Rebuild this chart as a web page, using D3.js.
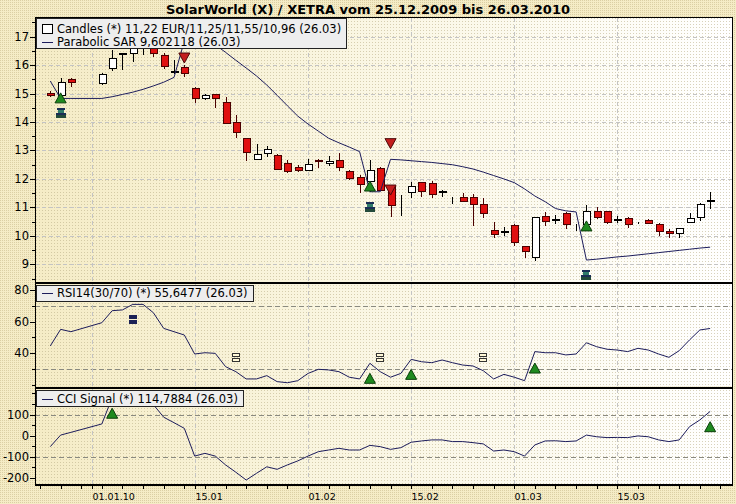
<!DOCTYPE html>
<html><head><meta charset="utf-8">
<script src="https://cdn.jsdelivr.net/npm/d3@7"></script>
<style>body{margin:0;background:#f6eecb}svg{display:block}</style>
</head><body><svg id="c" width="736" height="504"></svg>
<script>
// ---------- data ----------
const days = ["2009-12-28","2009-12-29","2009-12-30",
"2010-01-04","2010-01-05","2010-01-06","2010-01-07","2010-01-08",
"2010-01-11","2010-01-12","2010-01-13","2010-01-14","2010-01-15",
"2010-01-18","2010-01-19","2010-01-20","2010-01-21","2010-01-22",
"2010-01-25","2010-01-26","2010-01-27","2010-01-28","2010-01-29",
"2010-02-01","2010-02-02","2010-02-03","2010-02-04","2010-02-05",
"2010-02-08","2010-02-09","2010-02-10","2010-02-11","2010-02-12",
"2010-02-15","2010-02-16","2010-02-17","2010-02-18","2010-02-19",
"2010-02-22","2010-02-23","2010-02-24","2010-02-25","2010-02-26",
"2010-03-01","2010-03-02","2010-03-03","2010-03-04","2010-03-05",
"2010-03-08","2010-03-09","2010-03-10","2010-03-11","2010-03-12",
"2010-03-15","2010-03-16","2010-03-17","2010-03-18","2010-03-19",
"2010-03-22","2010-03-23","2010-03-24","2010-03-25","2010-03-26"];
const open = [15.03,14.95,15.51, 15.38,15.91,16.38,16.42,16.68, 16.75,16.36,15.79,15.92,15.19,
 14.83,14.98,14.69,14.01,13.43, 12.69,12.90,12.84,12.55,12.41, 12.31,12.68,12.56,12.67,12.29,
 12.08,11.93,12.38,11.75,11.10, 11.55,11.88,11.87,11.53,11.25, 11.36,11.36,11.12,10.22,10.15,
 10.37,9.64,9.25,10.70,10.57, 10.79,10.30,10.40,10.88,10.87, 10.57,10.62,10.45,10.56,10.42,
 10.17,10.09,10.50,10.65,11.22];
const high = [15.09,15.55,15.56, 15.72,16.53,16.43,16.80,17.05, 16.85,16.42,16.18,16.00,15.22,
 14.97,15.00,14.87,14.25,13.45, 13.23,13.16,12.86,12.67,12.50, 12.69,12.70,12.81,12.92,12.32,
 12.15,12.65,12.42,11.80,11.45, 11.89,11.90,11.93,11.61,11.38, 11.50,11.48,11.32,10.50,10.32,
 10.40,9.66,10.67,10.84,10.73, 10.85,10.42,11.08,11.00,10.89, 10.70,10.65,10.50,10.58,10.44,
 10.24,10.29,10.79,11.15,11.55];
const low = [14.89,14.85,15.22, 15.30,15.81,15.83,16.12,16.36, 16.30,15.85,15.68,15.59,14.66,
 14.78,14.48,13.95,13.43,12.64, 12.67,12.76,12.30,12.22,12.25, 12.27,12.37,12.46,12.29,11.98,
 11.52,11.55,11.58,10.65,10.70, 11.32,11.38,11.32,11.38,11.13, 11.20,10.34,10.62,9.94,10.01,
 9.65,9.21,9.13,10.36,10.43, 10.25,10.17,10.25,10.58,10.41, 10.46,10.29,10.40,10.40,10.01,
 9.91,9.91,10.48,10.53,10.96];
const close = [14.96,15.40,15.41, 15.69,16.24,16.42,16.65,16.95, 16.42,15.96,15.81,15.74,14.85,
 14.95,14.86,13.98,13.64,12.93, 12.88,13.04,12.34,12.28,12.30, 12.51,12.66,12.63,12.41,12.02,
 11.82,12.31,11.61,11.10,11.10, 11.75,11.59,11.46,11.56,11.25, 11.24,11.11,10.79,10.06,10.17,
 9.77,9.48,10.65,10.53,10.59, 10.40,10.30,10.89,10.65,10.50, 10.59,10.41,10.45,10.44,10.18,
 10.10,10.27,10.62,11.12,11.25];
const sar = [15.44,14.83,14.83, 14.83,14.89,14.97,15.05,15.15, 15.27,15.40,15.57,16.85,16.82,
 16.78,16.72,16.45,16.17,15.90, 15.62,15.30,14.94,14.57,14.21, 13.93,13.68,13.43,13.27,13.12,
 12.96,11.55,11.55,12.69,12.67, 12.64,12.61,12.58,12.54,12.50, 12.43,12.35,12.24,12.12,12.00,
 11.87,11.65,11.40,11.20,10.96, 10.88,10.84,9.15,9.18,9.22, 9.26,9.29,9.33,9.37,9.41,
 9.45,9.49,9.53,9.57,9.602118];
const rsi = [44.6,55.1,53.6, 59.3,66.9,67.4,70.9,70.9, 65.6,55.7,53.6,51.5,39.5,
 40.3,39.9,31.5,28.3,23.7, 23.7,25.8,22.0,21.3,22.6, 27.2,29.8,29.4,28.3,24.8,
 23.7,33.6,28.3,24.8,27.2, 36.1,34.6,34.0,35.7,34.0, 32.5,31.9,28.9,23.7,26.6,
 24.8,22.6,41.0,40.3,40.3, 38.9,39.5,46.6,44.1,42.5, 42.0,41.0,43.1,42.0,39.5,
 37.4,41.6,48.4,54.7,55.6477];
const cci = [-53,2,15, 55,180,195,200,185, 147,87,61,34,-98,
 -85,-98,-140,-175,-212, -180,-149,-161,-140,-121, -98,-77,-69,-61,-69,
 -69,-47,-53,-66,-58, -32,-26,-21,-21,-29, -29,-34,-40,-74,-69,
 -77,-98,-45,-26,-25, -29,-26,2,-6,-10, -9,-10,-2,-6,-21,
 -29,-21,42,74,114.7884];

const priceTicks = [9,10,11,12,13,14,15,16,17];
const rsiTicks = [40,60,80];
const cciTicks = [-200,-100,0,100];
const rsiLevels = [30,70];
const cciLevels = [-100,100];
const dateTicks = ["2010-01-01","2010-01-15","2010-02-01","2010-02-15","2010-03-01","2010-03-15"];
const dateLabels = ["01.01.10","15.01","01.02","15.02","01.03","15.03"];

const priceBuy  = [["2009-12-29",14.85],["2010-02-09",11.75],["2010-03-10",10.35]];
const priceSell = [["2010-01-14",16.25],["2010-02-11",11.61],["2010-02-11",13.24]];
const priceFlag = [["2009-12-29",14.32],["2010-02-09",11.01],["2010-03-10",8.62]];
const rsiHold     = [["2010-01-07",61.8]];
const rsiHoldOpen = [["2010-01-21",37.5],["2010-02-10",37.5],["2010-02-24",37.7]];
const rsiBuy  = [["2010-02-09",24.1],["2010-02-15",26.6],["2010-03-03",30.6]];
const cciBuy  = [["2010-01-05",106],["2010-03-26",42]];

const title = "SolarWorld (X) / XETRA vom 25.12.2009 bis 26.03.2010";
const legendPrice = ["Candles (*) 11,22 EUR/11,25/11,55/10,96 (26.03)","Parabolic SAR 9,602118 (26.03)"];
const legendRsi = "RSI14(30/70) (*) 55,6477 (26.03)";
const legendCci = "CCI Signal (*) 114,7884 (26.03)";

// ---------- helpers ----------
function wd(s){ // weekday index counted from Mon 28.12.2009
  const d = (Date.parse(s+"T00:00:00Z") - Date.UTC(2009,11,28))/864e5;
  const w = Math.floor(d/7), r = d - w*7;
  return w*5 + Math.min(r,5);
}
const FONT = "'DejaVu Sans', Verdana, sans-serif";
const L = 35, R = 732;
const P1 = [18, 282], P2 = [284, 386.5], P3 = [388.5, 484.5];

const x = d3.scaleLinear().domain([-1.484, 66.12]).range([L, R]);
const yP = d3.scaleLinear().domain([8.378, 17.657]).range([P1[1], P1[0]]);
const yR = d3.scaleLinear().domain([18.92, 83.8]).range([P2[1], P2[0]]);
const yC = d3.scaleLinear().domain([-233.3, 223.8]).range([P3[1], P3[0]]);

const svg = d3.select("#c").style("font-family", FONT);
const defs = svg.append("defs");
const grad = defs.append("linearGradient").attr("id","bg").attr("x1","0").attr("x2","1").attr("y1","0").attr("y2","0");
grad.append("stop").attr("offset","0").attr("stop-color","#f5ecc6");
grad.append("stop").attr("offset","0.45").attr("stop-color","#faf6e2");
grad.append("stop").attr("offset","1").attr("stop-color","#ffffff");
const pat = defs.append("pattern").attr("id","dots").attr("width",3).attr("height",3).attr("patternUnits","userSpaceOnUse");
pat.append("rect").attr("x",0).attr("y",0).attr("width",1).attr("height",1).attr("fill","#b8ad85").attr("opacity",0.55);
const pat2 = defs.append("pattern").attr("id","dots2").attr("width",2).attr("height",2).attr("patternUnits","userSpaceOnUse");
pat2.append("rect").attr("x",0).attr("y",0).attr("width",1).attr("height",1).attr("fill","#c9bd8e").attr("opacity",0.6);

svg.append("rect").attr("width",736).attr("height",504).attr("fill","#f5ecc6");
svg.append("rect").attr("width",736).attr("height",504).attr("fill","url(#dots2)");

const panels = [P1,P2,P3];
panels.forEach(p=>{
  svg.append("rect").attr("x",L).attr("y",p[0]).attr("width",R-L).attr("height",p[1]-p[0]).attr("fill","url(#bg)");
  svg.append("rect").attr("x",L).attr("y",p[0]).attr("width",R-L).attr("height",p[1]-p[0]).attr("fill","url(#dots)");
});

// title
svg.append("text").attr("x",368).attr("y",13.5).attr("text-anchor","middle")
  .attr("font-weight","bold").attr("font-size",13).attr("fill","#000").text(title);

const g = svg.append("g").attr("shape-rendering","crispEdges");

g.selectAll(".hg").data(priceTicks).join("line")
  .attr("x1",L).attr("x2",R).attr("y1",d=>Math.round(yP(d))+0.5).attr("y2",d=>Math.round(yP(d))+0.5)
  .attr("stroke","#c4c4c4").attr("stroke-dasharray","4,3");
g.selectAll(".rl").data(rsiLevels).join("line")
  .attr("x1",L).attr("x2",R).attr("y1",d=>Math.round(yR(d))+0.5).attr("y2",d=>Math.round(yR(d))+0.5)
  .attr("stroke","#8a8a80").attr("stroke-dasharray","5,3");
g.selectAll(".cl").data(cciLevels).join("line")
  .attr("x1",L).attr("x2",R).attr("y1",d=>Math.round(yC(d))+0.5).attr("y2",d=>Math.round(yC(d))+0.5)
  .attr("stroke","#8a8a80").attr("stroke-dasharray","5,3");
panels.forEach(p=>{
  g.selectAll(null).data(dateTicks).join("line")
    .attr("x1",d=>Math.round(x(wd(d)))+0.5).attr("x2",d=>Math.round(x(wd(d)))+0.5)
    .attr("y1",p[0]).attr("y2",p[1])
    .attr("stroke","#c4c4c4").attr("stroke-dasharray","4,3");
});

// candles
const cd = days.map((d,i)=>({i:wd(d),o:open[i],h:high[i],l:low[i],c:close[i]}));
const cg = svg.append("g").attr("shape-rendering","crispEdges");
cd.forEach(d=>{
  const cx = Math.round(x(d.i))+0.5;
  const up = d.c >= d.o;
  const col = up ? "#000" : "#4a0000";
  cg.append("line").attr("x1",cx).attr("x2",cx).attr("y1",yP(d.h)).attr("y2",yP(d.l)).attr("stroke",col);
  if (d.o !== d.c) {
    const y0 = Math.round(yP(Math.max(d.o,d.c)))+0.5;
    const y1 = Math.round(yP(Math.min(d.o,d.c)))+0.5;
    cg.append("rect").attr("x",cx-3.5).attr("width",7)
      .attr("y",y0).attr("height",Math.max(y1-y0,1))
      .attr("fill", up ? "#ffffff" : "#e01010").attr("stroke", col);
  }
});

// lines
const lineOf = (ys)=> d3.line().x((d,i)=>x(wd(days[i]))).y(d=>ys(d));
svg.append("path").datum(sar).attr("d",lineOf(yP)).attr("fill","none").attr("stroke","#1c1c5c").attr("stroke-width",1);
svg.append("path").datum(rsi).attr("d",lineOf(yR)).attr("fill","none").attr("stroke","#1c1c5c").attr("stroke-width",1);
svg.append("path").datum(cci).attr("d",lineOf(yC)).attr("fill","none").attr("stroke","#1c1c5c").attr("stroke-width",1);

// markers
const mk = svg.append("g");
function upTri(cx,cy){
  mk.append("path").attr("d",`M${cx},${cy-5}L${cx+5.5},${cy+5}L${cx-5.5},${cy+5}Z`)
    .attr("fill","#1f8a1f").attr("stroke","#0b3f0b").attr("stroke-width",1);
}
function downTri(cx,cy){
  mk.append("path").attr("d",`M${cx-5.5},${cy-5}L${cx+5.5},${cy-5}L${cx},${cy+5}Z`)
    .attr("fill","#c41e1e").attr("stroke","#4a0808").attr("stroke-width",1);
}
function flag(cx,cy){
  mk.append("rect").attr("x",cx-4).attr("y",cy-5).attr("width",8).attr("height",2).attr("fill","#1b2d55");
  mk.append("rect").attr("x",cx-3).attr("y",cy-3).attr("width",6).attr("height",3).attr("fill","#2f7a6a");
  mk.append("rect").attr("x",cx-5).attr("y",cy).attr("width",10).attr("height",2).attr("fill","#1b2d55");
  mk.append("rect").attr("x",cx-5).attr("y",cy+2).attr("width",10).attr("height",3).attr("fill","#234a3a");
}
function hold(cx,cy,filled){
  [cy-4,cy+1].forEach(yy=>{
    mk.append("rect").attr("x",cx-3.5).attr("y",yy+0.5).attr("width",7).attr("height",2.5)
      .attr("fill",filled?"#1b2155":"#fff8d8").attr("stroke",filled?"#1b2155":"#333").attr("stroke-width",1)
      .attr("shape-rendering","crispEdges");
  });
}
priceBuy.forEach(([d,v])=>upTri(x(wd(d)),yP(v)));
priceSell.forEach(([d,v])=>downTri(x(wd(d)),yP(v)));
priceFlag.forEach(([d,v])=>flag(Math.round(x(wd(d))),Math.round(yP(v))));
rsiHold.forEach(([d,v])=>hold(Math.round(x(wd(d))),Math.round(yR(v)),true));
rsiHoldOpen.forEach(([d,v])=>hold(Math.round(x(wd(d))),Math.round(yR(v)),false));
rsiBuy.forEach(([d,v])=>upTri(x(wd(d)),yR(v)));
cciBuy.forEach(([d,v])=>upTri(x(wd(d)),yC(v)));

// borders
const bd = svg.append("g").attr("shape-rendering","crispEdges").attr("fill","none").attr("stroke","#000");
bd.append("line").attr("x1",L).attr("x2",R+0.5).attr("y1",17.5).attr("y2",17.5);
bd.append("line").attr("x1",L+0.5).attr("x2",L+0.5).attr("y1",17.5).attr("y2",P3[1]);
bd.append("line").attr("x1",R+0.5).attr("x2",R+0.5).attr("y1",17.5).attr("y2",P3[1]);
bd.append("line").attr("x1",L).attr("x2",R+1).attr("y1",283).attr("y2",283).attr("stroke-width",2);
bd.append("line").attr("x1",L).attr("x2",R+1).attr("y1",387.5).attr("y2",387.5).attr("stroke-width",2);
bd.append("line").attr("x1",L).attr("x2",R+1).attr("y1",485).attr("y2",485).attr("stroke-width",1.5);

// y axes
function yAxis(scale, major, minor, fmt){
  const a = svg.append("g").attr("shape-rendering","crispEdges");
  a.selectAll(null).data(minor).join("line")
    .attr("x1",L-3).attr("x2",L).attr("y1",d=>Math.round(scale(d))+0.5).attr("y2",d=>Math.round(scale(d))+0.5).attr("stroke","#000");
  a.selectAll(null).data(major).join("line")
    .attr("x1",L-5).attr("x2",L).attr("y1",d=>Math.round(scale(d))+0.5).attr("y2",d=>Math.round(scale(d))+0.5).attr("stroke","#000");
  svg.append("g").selectAll(null).data(major).join("text")
    .attr("x",L-6).attr("y",d=>scale(d)+4).attr("text-anchor","end").attr("font-size",11.5).attr("fill","#000")
    .text(fmt);
}
yAxis(yP, priceTicks, d3.range(8.5,17.6,0.5), d=>d);
yAxis(yR, rsiTicks, d3.range(20,84,10), d=>d);
yAxis(yC, cciTicks, d3.range(-200,201,50), d=>d);

// x axis
const xt = svg.append("g").attr("shape-rendering","crispEdges");
const minorX = d3.range(-1,67).filter(i=>i%2!==0);
xt.selectAll(null).data(minorX).join("line")
  .attr("x1",d=>Math.round(x(d))+0.5).attr("x2",d=>Math.round(x(d))+0.5).attr("y1",485).attr("y2",489).attr("stroke","#000");
xt.selectAll(null).data(dateTicks).join("line")
  .attr("x1",d=>Math.round(x(wd(d)))+0.5).attr("x2",d=>Math.round(x(wd(d)))+0.5).attr("y1",485).attr("y2",489).attr("stroke","#000");
svg.append("g").selectAll(null).data(dateTicks).join("text")
  .attr("x",d=>Math.round(x(wd(d)))+0.5).attr("y",500).attr("font-size",9.5).attr("fill","#000")
  .text((d,i)=>dateLabels[i]);

// legends
function legend(x0,y0,rows,h){
  const lg = svg.append("g");
  const box = lg.append("rect").attr("x",x0+0.5).attr("y",y0+0.5).attr("height",h).attr("fill","#eeeeee").attr("stroke","#222")
    .attr("shape-rendering","crispEdges");
  let maxW = 0;
  rows.forEach((r,k)=>{
    const t = lg.append("text").attr("x",x0+21).attr("y",r.y).attr("font-size",11.5).attr("fill","#000").text(r.text);
    maxW = Math.max(maxW, t.node().getComputedTextLength());
    if (r.icon==="box") lg.append("rect").attr("x",x0+6.5).attr("y",r.y-8.5).attr("width",10).attr("height",9)
        .attr("fill","#fff").attr("stroke","#000").attr("shape-rendering","crispEdges");
    else lg.append("line").attr("x1",x0+6).attr("x2",x0+17).attr("y1",r.y-3.5).attr("y2",r.y-3.5)
        .attr("stroke","#1c1c5c").attr("shape-rendering","crispEdges");
  });
  box.attr("width", Math.round(21+maxW+5));
}
legend(L+1,18,[{icon:"box",y:32.5,text:legendPrice[0]},{icon:"line",y:45.5,text:legendPrice[1]}],30);
legend(L+1,285,[{icon:"line",y:297,text:legendRsi}],16);
legend(L+1,390,[{icon:"line",y:402.5,text:legendCci}],16);
</script></body></html>
